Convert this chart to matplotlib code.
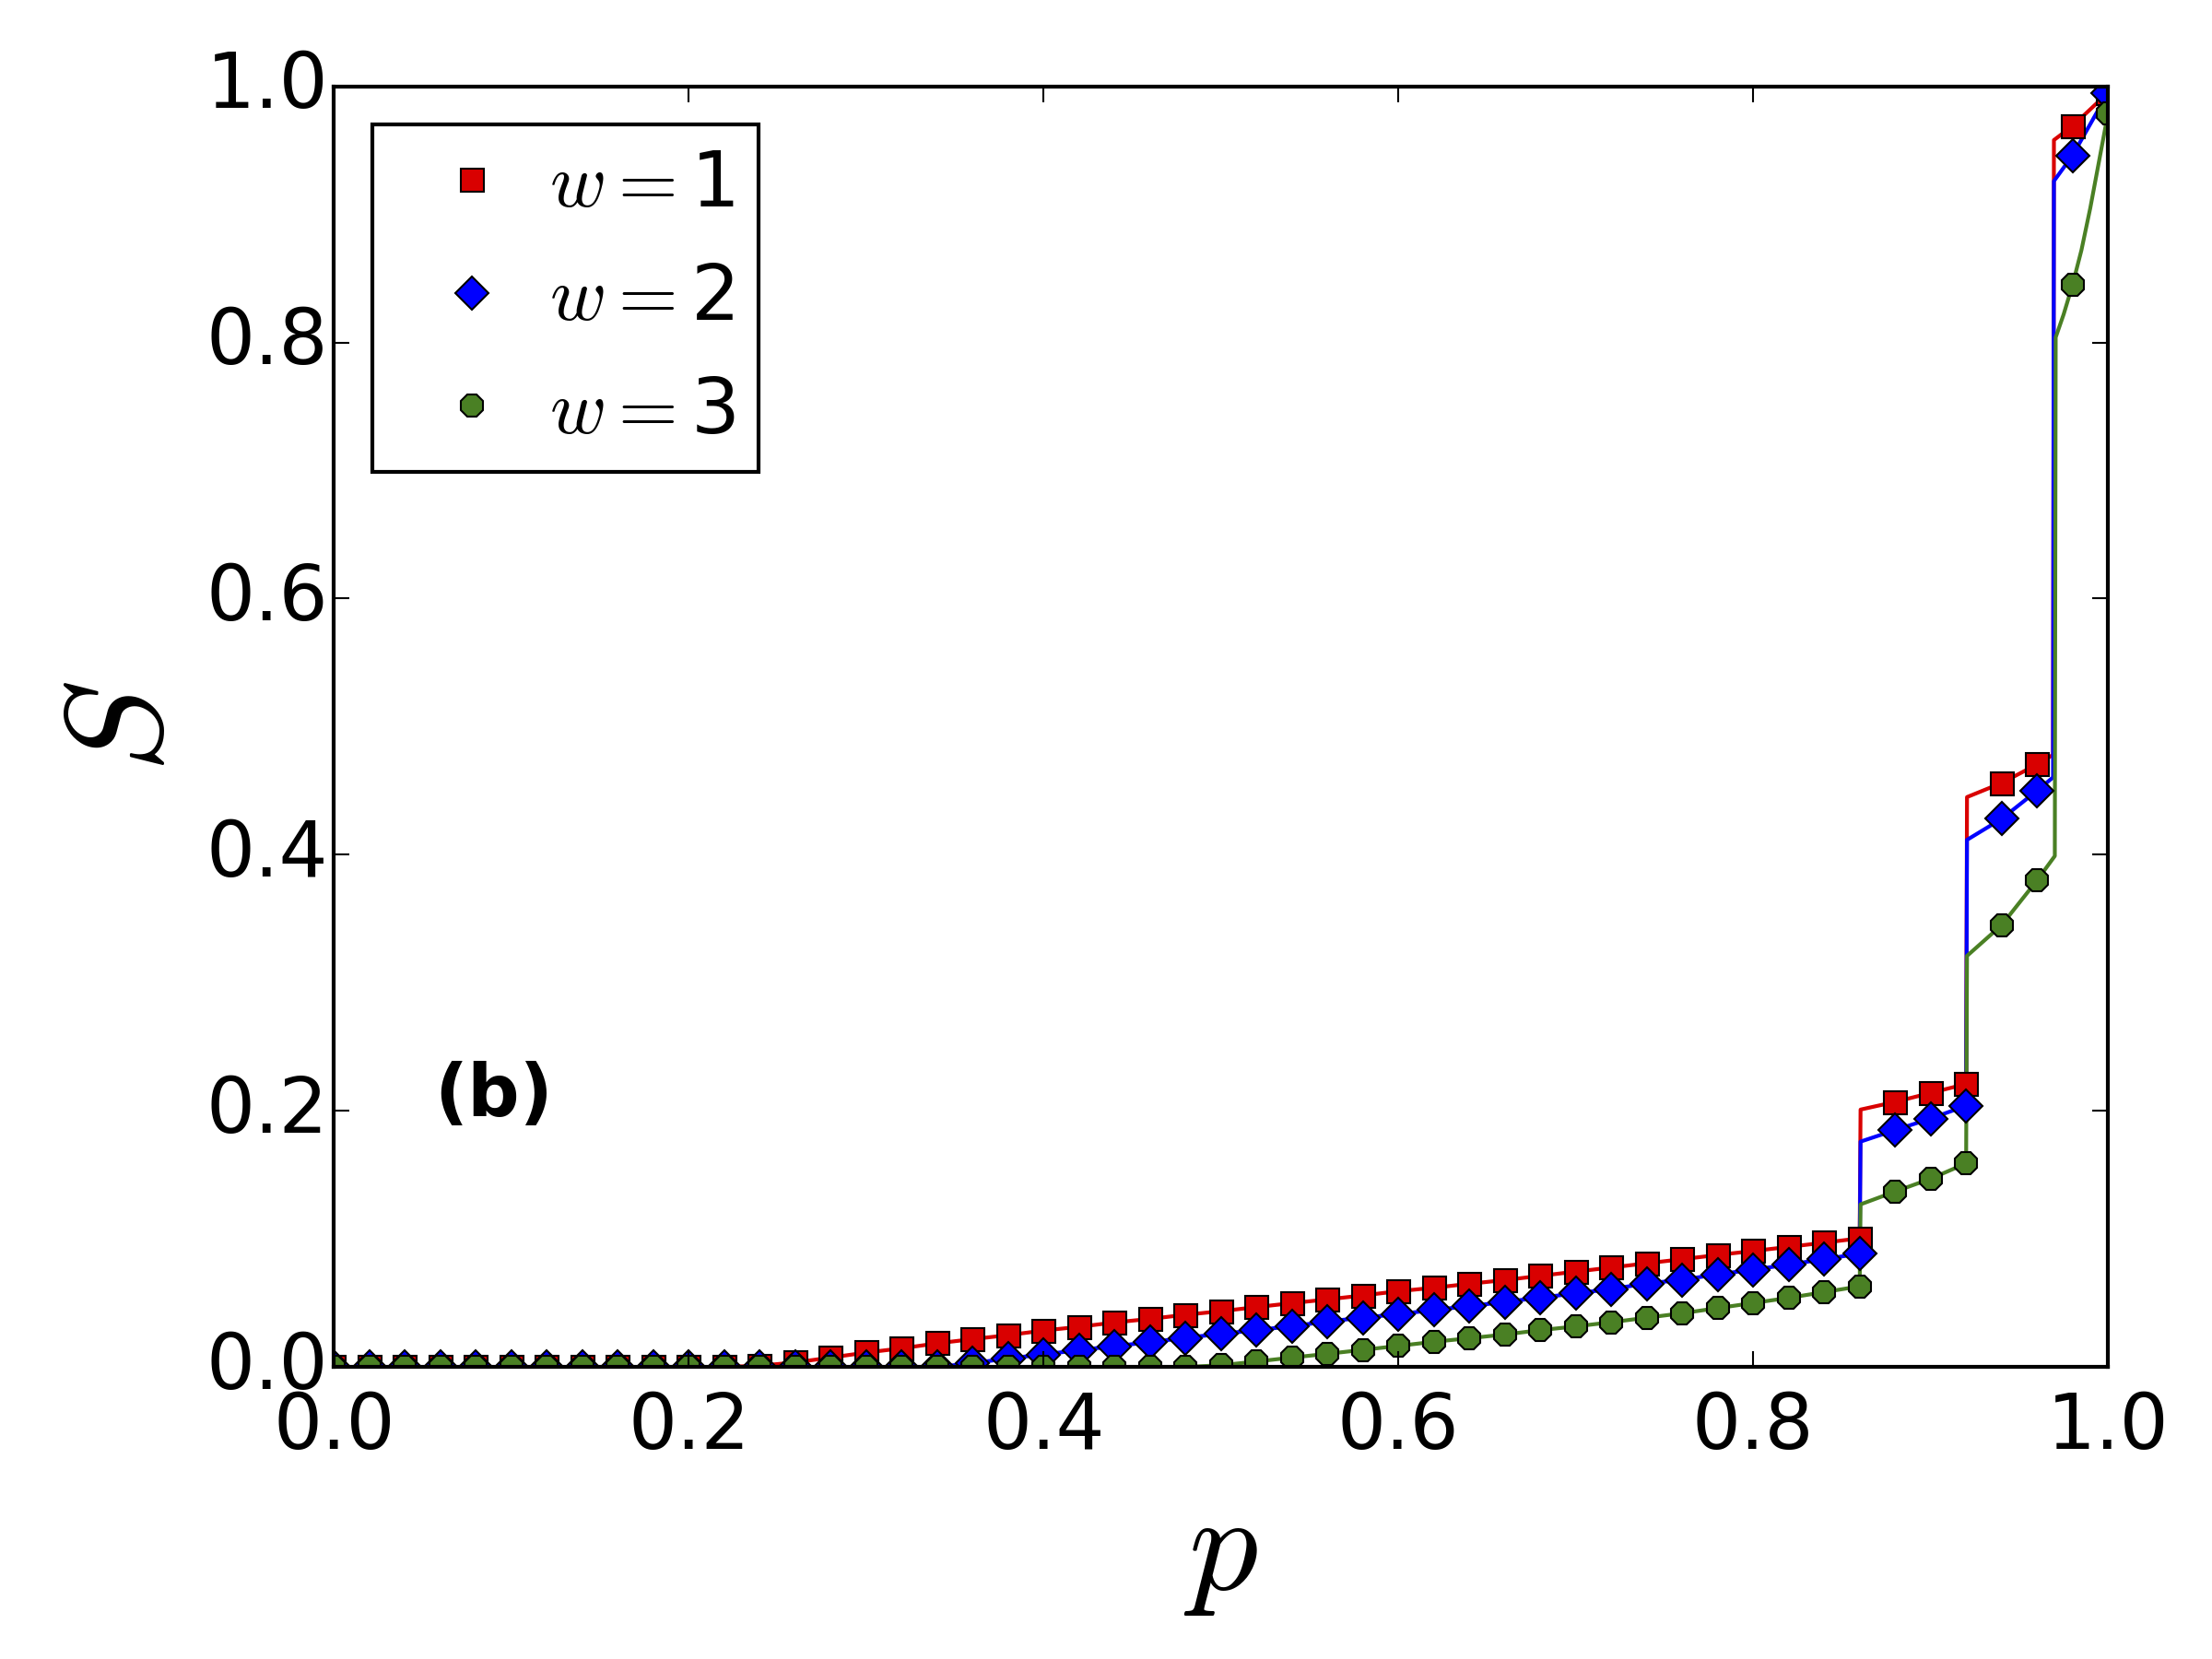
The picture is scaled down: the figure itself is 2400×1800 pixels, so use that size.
import matplotlib
matplotlib.use("Agg")
import matplotlib.pyplot as plt

# sampled points (markers)
p_points = [0.00, 0.02, 0.04, 0.06, 0.08, 0.10, 0.12, 0.14, 0.16, 0.18,
            0.20, 0.22, 0.24, 0.26, 0.28, 0.30, 0.32, 0.34, 0.36, 0.38,
            0.40, 0.42, 0.44, 0.46, 0.48, 0.50, 0.52, 0.54, 0.56, 0.58,
            0.60, 0.62, 0.64, 0.66, 0.68, 0.70, 0.72, 0.74, 0.76, 0.78,
            0.80, 0.82, 0.84, 0.86, 0.88, 0.90, 0.92, 0.94, 0.96, 0.98, 1.00]

s_w1 = [0, 0, 0, 0, 0, 0, 0, 0, 0, 0, 0, 0,
        0.001, 0.0036, 0.0074, 0.0113, 0.0146, 0.0185, 0.0218, 0.0249,
        0.0285, 0.0314, 0.0348, 0.0376, 0.0408, 0.0436, 0.0468, 0.0499,
        0.0528, 0.0559, 0.0592, 0.0619, 0.065, 0.0679, 0.0712, 0.0745,
        0.0777, 0.081, 0.0842, 0.0875, 0.0906, 0.0938, 0.0971, 0.1005,
        0.207, 0.214, 0.221, 0.456, 0.4705, 0.969, 0.995]

s_w2 = [0, 0, 0, 0, 0, 0, 0, 0, 0, 0, 0, 0, 0, 0, 0, 0, 0, 0,
        0.003, 0.0067, 0.0098, 0.0132, 0.0163, 0.0194, 0.0228, 0.0259,
        0.0288, 0.0319, 0.0355, 0.0386, 0.0412, 0.0446, 0.0475, 0.0508,
        0.0542, 0.0575, 0.0609, 0.0652, 0.0681, 0.0724, 0.076, 0.080,
        0.0842, 0.0885, 0.185, 0.194, 0.204, 0.428, 0.450, 0.946, 0.995]

s_w3 = [0, 0, 0, 0, 0, 0, 0, 0, 0, 0, 0, 0, 0, 0, 0, 0, 0, 0, 0, 0,
        0, 0, 0, 0, 0,
        0.0014, 0.0043, 0.0074, 0.0103, 0.0134, 0.0165, 0.0197, 0.0225,
        0.0254, 0.0288, 0.0317, 0.035, 0.0385, 0.042, 0.046, 0.050,
        0.054, 0.0585, 0.063, 0.137, 0.147, 0.159, 0.345, 0.380, 0.845, 0.979]

# extra points of the continuous curves (jumps and the final bend)
jump_p_w1 = [0.8605, 0.9205, 0.969, 0.9695]
jump_s_w1 = [0.201, 0.445, 0.478, 0.958]
jump_p_w2 = [0.8605, 0.9205, 0.969, 0.9695]
jump_s_w2 = [0.176, 0.4116, 0.4604, 0.926]
jump_p_w3 = [0.8605, 0.9205, 0.970, 0.9705, 0.975, 0.985, 0.99, 0.995]
jump_s_w3 = [0.127, 0.321, 0.399, 0.804, 0.822, 0.872, 0.905, 0.942]

labels = [r'$w=$1', r'$w=$2', r'$w=$3']
colors = ['#d90000', '#0000ff', '#4a8024']
markers = ['s', 'D', '8']


def curve(p, s, jp, js):
    pts = sorted(zip(list(p) + jp, list(s) + js))
    return [a for a, _ in pts], [b for _, b in pts]


plt.style.use('classic')
plt.rcParams['figure.facecolor'] = 'white'
plt.rcParams['savefig.facecolor'] = 'white'
plt.rcParams['mathtext.fontset'] = 'cm'

fig = plt.figure(figsize=(8, 6), dpi=300)
ax = fig.add_axes([0.151, 0.176, 0.802, 0.772])

series = [(s_w1, jump_p_w1, jump_s_w1), (s_w2, jump_p_w2, jump_s_w2),
          (s_w3, jump_p_w3, jump_s_w3)]
for (s, jp, js), lab, c, m in zip(series, labels, colors, markers):
    cx, cy = curve(p_points, s, jp, js)
    ax.plot(cx, cy, '-', color=c, lw=1.0)
for (s, jp, js), lab, c, m in zip(series, labels, colors, markers):
    ax.plot(p_points, s, linestyle='none', marker=m, color=c, mfc=c,
            mec='black', mew=0.5, ms=6, label=lab)

ax.set_xlim(0, 1)
ax.set_ylim(0, 1)
ax.set_xticks([0.0, 0.2, 0.4, 0.6, 0.8, 1.0])
ax.set_yticks([0.0, 0.2, 0.4, 0.6, 0.8, 1.0])
ax.tick_params(labelsize=20, direction='in', top=True, right=True, length=4)
ax.tick_params(axis='x', pad=6)
ax.tick_params(axis='y', pad=1.5)
ax.set_xlabel(r'$p$', fontsize=36)
ax.set_ylabel(r'$S$', fontsize=36, labelpad=4)

ax.text(0.09, 0.212, '(b)', fontsize=19, fontweight='bold',
        ha='center', va='center')

leg = ax.legend(loc='upper left', fontsize=20, numpoints=1, fancybox=False,
                handletextpad=0.0, borderpad=0.3)
leg.get_frame().set_edgecolor('black')

fig.savefig('out.png', dpi=300)
